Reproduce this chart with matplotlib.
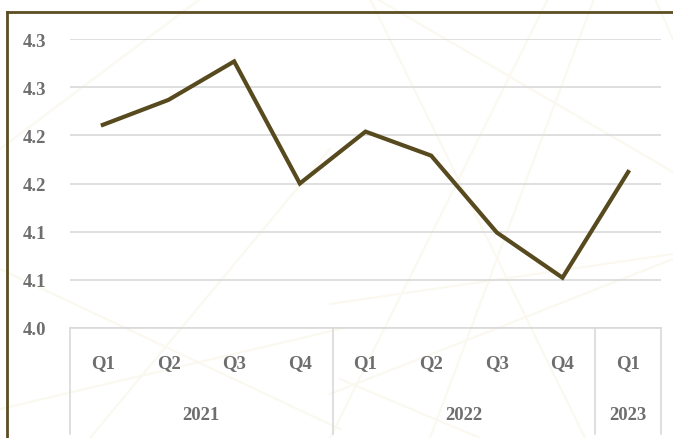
import matplotlib.pyplot as plt
import matplotlib.transforms as mtransforms
from matplotlib.lines import Line2D

quarters = ["Q1", "Q2", "Q3", "Q4", "Q1", "Q2", "Q3", "Q4", "Q1"]
years = ["2021", "2022", "2023"]
year_sizes = [4, 4, 1]
values = [4.211, 4.237, 4.277, 4.150, 4.204, 4.179, 4.099, 4.052, 4.162]
yticks = [4.00, 4.05, 4.10, 4.15, 4.20, 4.25, 4.30]
ytick_labels = ["4.0", "4.1", "4.1", "4.2", "4.2", "4.3", "4.3"]

W, H = 673, 439
line_color = "#574a1e"
text_color = "#6e6e6e"
grid_color = "#d9d9d9"

fig = plt.figure(figsize=(W / 100, H / 100), dpi=100)
fig.patch.set_facecolor("white")

# faint ornamental strokes in the background
deco = [
    ((370, 0), (585, 439)),
    ((377, 0), (673, 173)),
    ((548, 0), (330, 439)),
    ((594, 0), (430, 439)),
    ((655, 0), (673, 40)),
    ((330, 305), (673, 255)),
    ((330, 395), (673, 260)),
    ((0, 270), (340, 430)),
    ((0, 410), (340, 330)),
    ((90, 439), (330, 150)),
    ((200, 0), (0, 150)),
    ((340, 380), (480, 439)),
]
for (x0, y0), (x1, y1) in deco:
    fig.add_artist(Line2D([x0 / W, x1 / W], [1 - y0 / H, 1 - y1 / H],
                          transform=fig.transFigure, color="#faf8ef",
                          lw=1.5, zorder=0))

# outer frame (runs off the right and bottom edges)
fig.add_artist(Line2D([7 / W, 1.01], [1 - 12.5 / H, 1 - 12.5 / H],
                      transform=fig.transFigure, color="#5c4d22", lw=2))
fig.add_artist(Line2D([7 / W, 7 / W], [1 - 12.5 / H, -0.01],
                      transform=fig.transFigure, color="#5c4d22", lw=2))

left, right, top, bottom = 70, 661, 40.3, 328.7
ax = fig.add_axes([left / W, 1 - bottom / H, (right - left) / W, (bottom - top) / H])
ax.patch.set_alpha(0)

x = list(range(len(values)))
ax.plot(x, values, color=line_color, lw=3, solid_joinstyle="miter", zorder=3)

ax.set_xlim(-0.5, len(values) - 0.5)
ax.set_ylim(4.0, 4.3)
ax.set_yticks(yticks)
ax.set_yticklabels(ytick_labels)
ax.yaxis.grid(True, color=grid_color, lw=1.2)
ax.set_axisbelow(True)
for s in ["top", "right", "left"]:
    ax.spines[s].set_visible(False)
ax.spines["bottom"].set_color(grid_color)
ax.spines["bottom"].set_linewidth(1.2)
ax.tick_params(axis="y", length=0, pad=17, labelcolor=text_color)
ax.tick_params(axis="x", length=0, labelbottom=False)
for lab in ax.get_yticklabels():
    lab.set_fontfamily("Liberation Serif")
    lab.set_fontweight("bold")
    lab.set_fontsize(13.5)

# two-level category axis below the plot
trans = mtransforms.blended_transform_factory(ax.transData, fig.transFigure)
y_q = 1 - 364 / H
y_y = 1 - 416 / H
for i, q in enumerate(quarters):
    ax.text(i, y_q, q, transform=trans, ha="center", va="center",
            fontfamily="Liberation Serif", fontweight="bold",
            fontsize=13.5, color=text_color)

start = -0.5
bounds = [start]
for name, n in zip(years, year_sizes):
    ax.text(start + n / 2, y_y, name, transform=trans, ha="center", va="center",
            fontfamily="Liberation Serif", fontweight="bold",
            fontsize=13.5, color=text_color)
    start += n
    bounds.append(start)
for b in bounds:
    ax.add_line(Line2D([b, b], [1 - bottom / H, 1 - 435 / H], transform=trans,
                       color=grid_color, lw=1.2, clip_on=False))

fig.savefig("out.png", dpi=100)
